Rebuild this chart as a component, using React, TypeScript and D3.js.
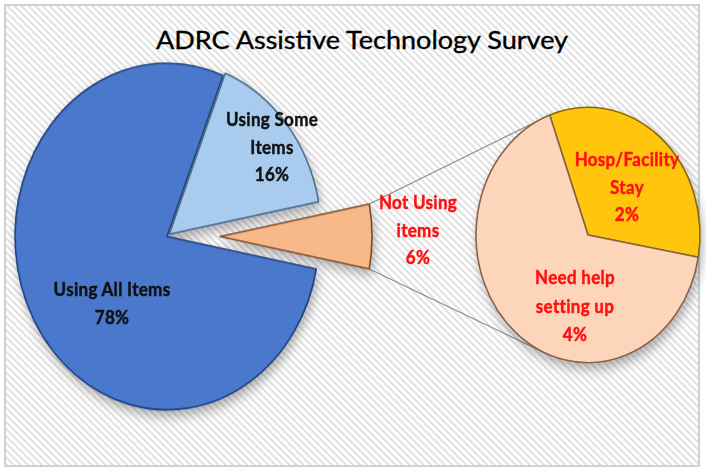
import React, { useEffect, useRef } from "react";
import * as d3 from "d3";

// main pie values (clockwise, starting with the exploded slice)
const mainCategories = ["Not Using items", "Using All Items", "Using Some Items"];
const mainValues = [6, 78, 16];
const mainLabelLines = [["Not Using", "items", "6%"], ["Using All Items", "78%"], ["Using Some", "Items", "16%"]];

// breakdown of "Not Using items"
const subCategories = ["Hosp/Facility Stay", "Need help setting up"];
const subValues = [2, 4];
const subLabelLines = [["Hosp/Facility", "Stay", "2%"], ["Need help", "setting up", "4%"]];

const title = "ADRC Assistive Technology Survey";

function App() {
  const ref = useRef<SVGSVGElement>(null);

  useEffect(() => {
    const W = 706, H = 469;
    const sy = 1.14; // the picture is a bit taller than wide
    const svg = d3.select(ref.current);
    svg.selectAll("*").remove();

    const defs = svg.append("defs");
    const pat = defs.append("pattern")
      .attr("id", "stripes")
      .attr("patternUnits", "userSpaceOnUse")
      .attr("width", 5).attr("height", 5)
      .attr("patternTransform", "rotate(-45)");
    pat.append("rect").attr("width", 5).attr("height", 5).attr("fill", "#ffffff");
    pat.append("rect").attr("x", 0).attr("width", 1.8).attr("height", 5).attr("fill", "#dedede");

    const f = defs.append("filter").attr("id", "shadow")
      .attr("x", "-20%").attr("y", "-20%").attr("width", "140%").attr("height", "140%");
    f.append("feDropShadow").attr("dx", 2).attr("dy", 5).attr("stdDeviation", 5)
      .attr("flood-color", "#000").attr("flood-opacity", 0.3);

    svg.append("rect").attr("width", W).attr("height", H).attr("fill", "#fff");
    svg.append("rect")
      .attr("x", 5).attr("y", 5).attr("width", 694).attr("height", 461)
      .attr("fill", "url(#stripes)")
      .attr("stroke", "#d0d0d0").attr("stroke-width", 2);

    // title
    svg.append("text")
      .attr("transform", `translate(362,49) scale(1,${sy})`)
      .attr("text-anchor", "middle")
      .attr("font-family", "Lato, 'Open Sans', sans-serif")
      .attr("font-size", 22)
      .attr("textLength", 412)
      .attr("lengthAdjust", "spacingAndGlyphs")
      .attr("fill", "#000")
      .attr("stroke", "#000").attr("stroke-width", 0.3)
      .text(title);

    // ---- main pie
    const cx = 167, cy = 236.5, r = 152;
    const otherSpan = (mainValues[0] / d3.sum(mainValues)) * 2 * Math.PI;
    const start = Math.PI / 2 - otherSpan / 2;
    const pie = d3.pie<number>().sort(null).value(d => d).startAngle(start).endAngle(start + 2 * Math.PI);
    const arcs = pie(mainValues);
    const arc = d3.arc<d3.PieArcDatum<number>>().innerRadius(0).outerRadius(r);
    const mainFill = ["#f7b88a", "#4878cc", "#a8cbee"];
    const mainStroke = ["#7a4a28", "#1f3f7a", "#4d6b8a"];
    const explode = [53, 0, 3];

    const g = svg.append("g")
      .attr("transform", `translate(${cx},${cy}) scale(1,${sy})`)
      .attr("filter", "url(#shadow)");
    g.selectAll("path").data(arcs).join("path")
      .attr("d", arc)
      .attr("transform", (d, i) => {
        const a = (d.startAngle + d.endAngle) / 2;
        return `translate(${explode[i] * Math.sin(a)},${-explode[i] * Math.cos(a)})`;
      })
      .attr("fill", (d, i) => mainFill[i])
      .attr("stroke", (d, i) => mainStroke[i])
      .attr("stroke-width", 1.6)
      .attr("vector-effect", "non-scaling-stroke")
      .attr("stroke-linejoin", "round");

    // ---- secondary pie
    const cx2 = 588, cy2 = 235, r2 = 112;
    const subStart = -20 * Math.PI / 180;
    const pie2 = d3.pie<number>().sort(null).value(d => d).startAngle(subStart).endAngle(subStart + 2 * Math.PI);
    const arcs2 = pie2(subValues);
    const arc2 = d3.arc<d3.PieArcDatum<number>>().innerRadius(0).outerRadius(r2);
    const subFill = ["#ffc60a", "#fcd5ba"];
    const subStroke = ["#8a6a00", "#8a6248"];

    // connector lines
    const oa = arcs[0];
    const ex = explode[0];
    const p1 = [cx + ex + r * Math.sin(oa.startAngle), cy - r * Math.cos(oa.startAngle) * sy];
    const p2 = [cx + ex + r * Math.sin(oa.endAngle), cy - r * Math.cos(oa.endAngle) * sy];
    const q1a = subStart;
    const q2a = 203 * Math.PI / 180;
    const q1 = [cx2 + r2 * Math.sin(q1a), cy2 - r2 * Math.cos(q1a) * sy];
    const q2 = [cx2 + r2 * Math.sin(q2a), cy2 - r2 * Math.cos(q2a) * sy];
    svg.append("g").selectAll("line").data([[p1, q1], [p2, q2]]).join("line")
      .attr("x1", d => d[0][0]).attr("y1", d => d[0][1])
      .attr("x2", d => d[1][0]).attr("y2", d => d[1][1])
      .attr("stroke", "#8c8c8c").attr("stroke-width", 1.2);

    const g2 = svg.append("g")
      .attr("transform", `translate(${cx2},${cy2}) scale(1,${sy})`)
      .attr("filter", "url(#shadow)");
    g2.selectAll("path").data(arcs2).join("path")
      .attr("d", arc2)
      .attr("fill", (d, i) => subFill[i])
      .attr("stroke", (d, i) => subStroke[i])
      .attr("stroke-width", 1.6)
      .attr("vector-effect", "non-scaling-stroke")
      .attr("stroke-linejoin", "round");

    // ---- labels
    const font = "Lato, 'Open Sans', sans-serif";
    const addLabel = (lines: string[], x: number, y: number, color: string, lh: number) => {
      const t = svg.append("g");
      lines.forEach((s, i) => {
        t.append("text")
          .attr("transform", `translate(${x},${y + i * lh}) scale(1,${sy})`)
          .attr("text-anchor", "middle")
          .attr("font-family", font)
          .attr("font-weight", 700)
          .attr("font-size", 17)
          .attr("letter-spacing", 0.3)
          .attr("fill", color)
          .attr("stroke", color).attr("stroke-width", 0.4)
          .text(s);
      });
    };
    addLabel(mainLabelLines[2], 272, 126, "#111", 27.5);
    addLabel(mainLabelLines[1], 112, 296, "#111", 28);
    addLabel(mainLabelLines[0], 418, 209, "#ff1010", 27.5);
    addLabel(subLabelLines[0], 627, 166, "#ff1010", 27.5);
    addLabel(subLabelLines[1], 575, 284, "#ff1010", 28.5);
  }, []);

  return (
    <svg
      ref={ref}
      width={706}
      height={469}
      style={{ position: "absolute", left: 0, top: 0, display: "block" }}
    />
  );
}

export default App;
